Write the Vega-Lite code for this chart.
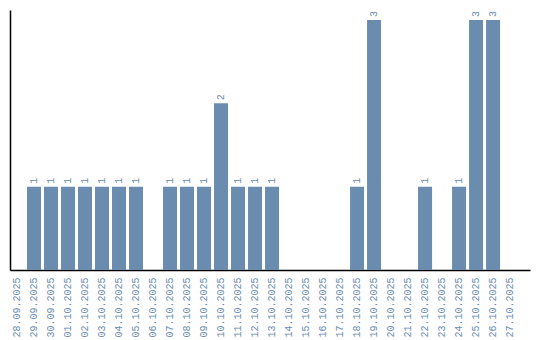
{
  "$schema": "https://vega.github.io/schema/vega-lite/v6.json",
  "autosize": "none",
  "width": 520,
  "height": 260,
  "padding": {"left": 10, "top": 10, "right": 10, "bottom": 70},
  "config": {"view": {"stroke": null}},
  "data": {"values": [
    {"date": "28.09.2025", "count": 0},
    {"date": "29.09.2025", "count": 1},
    {"date": "30.09.2025", "count": 1},
    {"date": "01.10.2025", "count": 1},
    {"date": "02.10.2025", "count": 1},
    {"date": "03.10.2025", "count": 1},
    {"date": "04.10.2025", "count": 1},
    {"date": "05.10.2025", "count": 1},
    {"date": "06.10.2025", "count": 0},
    {"date": "07.10.2025", "count": 1},
    {"date": "08.10.2025", "count": 1},
    {"date": "09.10.2025", "count": 1},
    {"date": "10.10.2025", "count": 2},
    {"date": "11.10.2025", "count": 1},
    {"date": "12.10.2025", "count": 1},
    {"date": "13.10.2025", "count": 1},
    {"date": "14.10.2025", "count": 0},
    {"date": "15.10.2025", "count": 0},
    {"date": "16.10.2025", "count": 0},
    {"date": "17.10.2025", "count": 0},
    {"date": "18.10.2025", "count": 1},
    {"date": "19.10.2025", "count": 3},
    {"date": "20.10.2025", "count": 0},
    {"date": "21.10.2025", "count": 0},
    {"date": "22.10.2025", "count": 1},
    {"date": "23.10.2025", "count": 0},
    {"date": "24.10.2025", "count": 1},
    {"date": "25.10.2025", "count": 3},
    {"date": "26.10.2025", "count": 3},
    {"date": "27.10.2025", "count": 0}
  ]},
  "encoding": {
    "x": {
      "field": "date", "type": "nominal", "sort": null, "title": null,
      "scale": {"paddingInner": 0.176, "paddingOuter": 0.38, "align": 0},
      "axis": {
        "labelAngle": -90, "labelFont": "Liberation Mono", "labelFontSize": 10,
        "labelColor": "#6a8caf", "ticks": false, "labelPadding": 7,
        "domainColor": "#000000", "domainWidth": 1.5, "labelBaseline": "middle"
      }
    },
    "y": {
      "field": "count", "type": "quantitative", "title": null,
      "scale": {"domain": [0, 3.12], "nice": false},
      "axis": {"labels": false, "ticks": false, "grid": false, "domainColor": "#000000", "domainWidth": 1.5}
    }
  },
  "layer": [
    {"mark": {"type": "bar", "color": "#6a8caf"}},
    {
      "transform": [{"filter": "datum.count > 0"}],
      "mark": {"type": "text", "angle": -90, "align": "left", "baseline": "middle", "dx": 3, "font": "Liberation Mono", "fontSize": 10, "color": "#6a8caf"},
      "encoding": {"text": {"field": "count", "type": "quantitative"}}
    }
  ]
}
